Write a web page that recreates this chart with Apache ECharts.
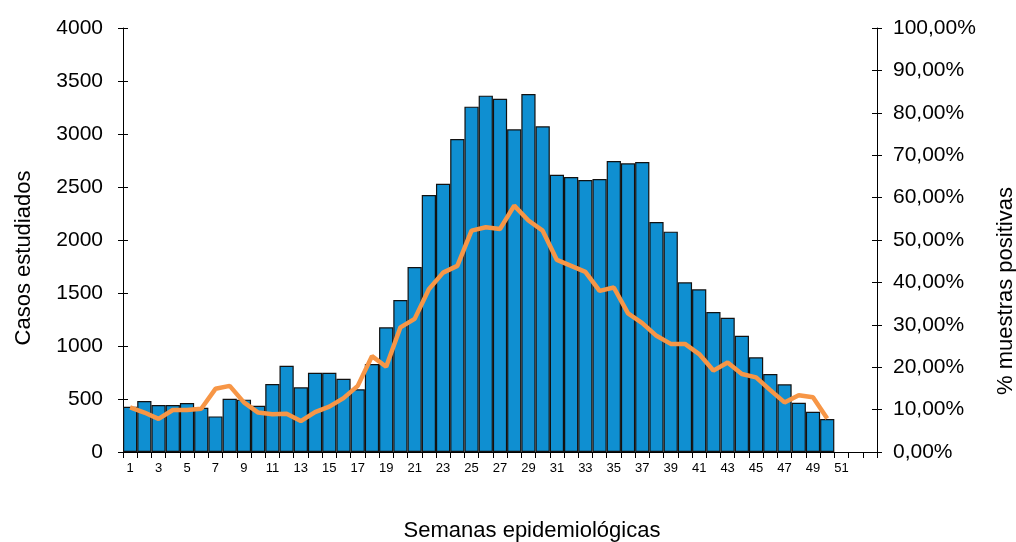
<!DOCTYPE html>
<html>
<head>
<meta charset="utf-8">
<script src="https://cdn.jsdelivr.net/npm/echarts@6/dist/echarts.min.js"></script>
<style>
  html, body { margin: 0; padding: 0; background: #fff; }
  #chart { width: 1016px; height: 542px; }
</style>
</head>
<body>
<div id="chart"></div>
<script>
// Epidemiological weeks (axis runs to week 53, data to week 50)
const weeks = Array.from({ length: 53 }, (_, i) => String(i + 1));

// Cases studied per week
const casosEstudiados = [
  427, 481, 443, 443, 462, 418, 336, 503, 494, 437,
  642, 814, 610, 748, 748, 690, 591, 830, 1176, 1434,
  1745, 2425, 2531, 2953, 3258, 3362, 3333, 3044, 3377, 3072,
  2616, 2594, 2566, 2575, 2745, 2723, 2736, 2170, 2079, 1601,
  1535, 1321, 1267, 1097, 893, 736, 638, 465, 380, 311
];

// Percentage of positive samples per week
const muestrasPositivas = [
  10.5, 9.3, 7.8, 9.9, 9.9, 10.2, 14.9, 15.6, 11.7, 9.3,
  8.9, 9.0, 7.3, 9.4, 10.7, 12.7, 15.6, 22.6, 20.1, 29.4,
  31.4, 38.4, 42.3, 43.9, 52.2, 53.0, 52.6, 58.1, 54.6, 52.2,
  45.3, 43.9, 42.5, 38.0, 38.8, 32.7, 30.4, 27.4, 25.5, 25.5,
  23.1, 19.2, 21.1, 18.4, 17.6, 14.6, 11.7, 13.4, 12.9, 7.9
];

const FONT = 'Liberation Sans, Arial, sans-serif';
const chart = echarts.init(document.getElementById('chart'), null, { renderer: 'canvas' });

const axisLineStyle = { color: '#000', width: 1 };

chart.setOption({
  animation: false,
  backgroundColor: '#ffffff',
  grid: {
    left: 123, right: 139, top: 28, bottom: 90,
    containLabel: false, outerBoundsMode: 'none'
  },
  xAxis: {
    type: 'category',
    data: weeks,
    boundaryGap: true,
    name: 'Semanas epidemiológicas',
    nameLocation: 'middle',
    nameGap: 68,
    nameTextStyle: { fontFamily: FONT, fontSize: 22, color: '#000', padding: [0, 0, 0, 64] },
    axisLine: { lineStyle: axisLineStyle },
    axisTick: { show: true, alignWithLabel: false, interval: 0, length: 6, lineStyle: axisLineStyle },
    axisLabel: {
      // odd weeks only, up to week 51
      interval: (idx) => idx % 2 === 0 && idx < 52,
      fontFamily: FONT, fontSize: 13, color: '#000', margin: 10
    },
    splitLine: { show: false }
  },
  yAxis: [
    {
      type: 'value', min: 0, max: 4000, interval: 500, position: 'left',
      name: 'Casos estudiados', nameLocation: 'middle', nameGap: 88, nameRotate: 90,
      nameTextStyle: { fontFamily: FONT, fontSize: 22, color: '#000', padding: [0, 36, 0, 0] },
      axisLine: { show: true, lineStyle: axisLineStyle },
      axisTick: { show: true, length: 5, lineStyle: axisLineStyle },
      axisLabel: {
        fontFamily: FONT, fontSize: 21, color: '#000', margin: 20,
        formatter: v => String(v)
      },
      splitLine: { show: false }
    },
    {
      type: 'value', min: 0, max: 100, interval: 10, position: 'right',
      name: '% muestras positivas', nameLocation: 'middle', nameGap: 118, nameRotate: 90,
      nameTextStyle: { fontFamily: FONT, fontSize: 22, color: '#000', padding: [0, 102, 0, 0] },
      axisLine: { show: true, lineStyle: axisLineStyle },
      axisTick: { show: true, length: 5, lineStyle: axisLineStyle },
      axisLabel: {
        fontFamily: FONT, fontSize: 21, color: '#000', margin: 16,
        formatter: v => v.toFixed(2).replace('.', ',') + '%'
      },
      splitLine: { show: false }
    },
    {
      // inner half of the crossing ticks on the left axis
      type: 'value', min: 0, max: 4000, interval: 500, position: 'left',
      axisLine: { show: false },
      axisTick: { show: true, inside: true, length: 5, lineStyle: axisLineStyle },
      axisLabel: { show: false },
      splitLine: { show: false }
    },
    {
      // inner half of the crossing ticks on the right axis
      type: 'value', min: 0, max: 100, interval: 10, position: 'right',
      axisLine: { show: false },
      axisTick: { show: true, inside: true, length: 5, lineStyle: axisLineStyle },
      axisLabel: { show: false },
      splitLine: { show: false }
    }
  ],
  series: [
    {
      name: 'Casos estudiados',
      type: 'bar',
      yAxisIndex: 0,
      data: casosEstudiados,
      barCategoryGap: '0%',
      itemStyle: { color: '#0F8FD1', borderColor: '#111', borderWidth: 1.2 }
    },
    {
      name: '% muestras positivas',
      type: 'line',
      yAxisIndex: 1,
      data: muestrasPositivas,
      symbol: 'none',
      lineStyle: { color: '#F79646', width: 4.5 },
      z: 3
    }
  ]
});
</script>
</body>
</html>
